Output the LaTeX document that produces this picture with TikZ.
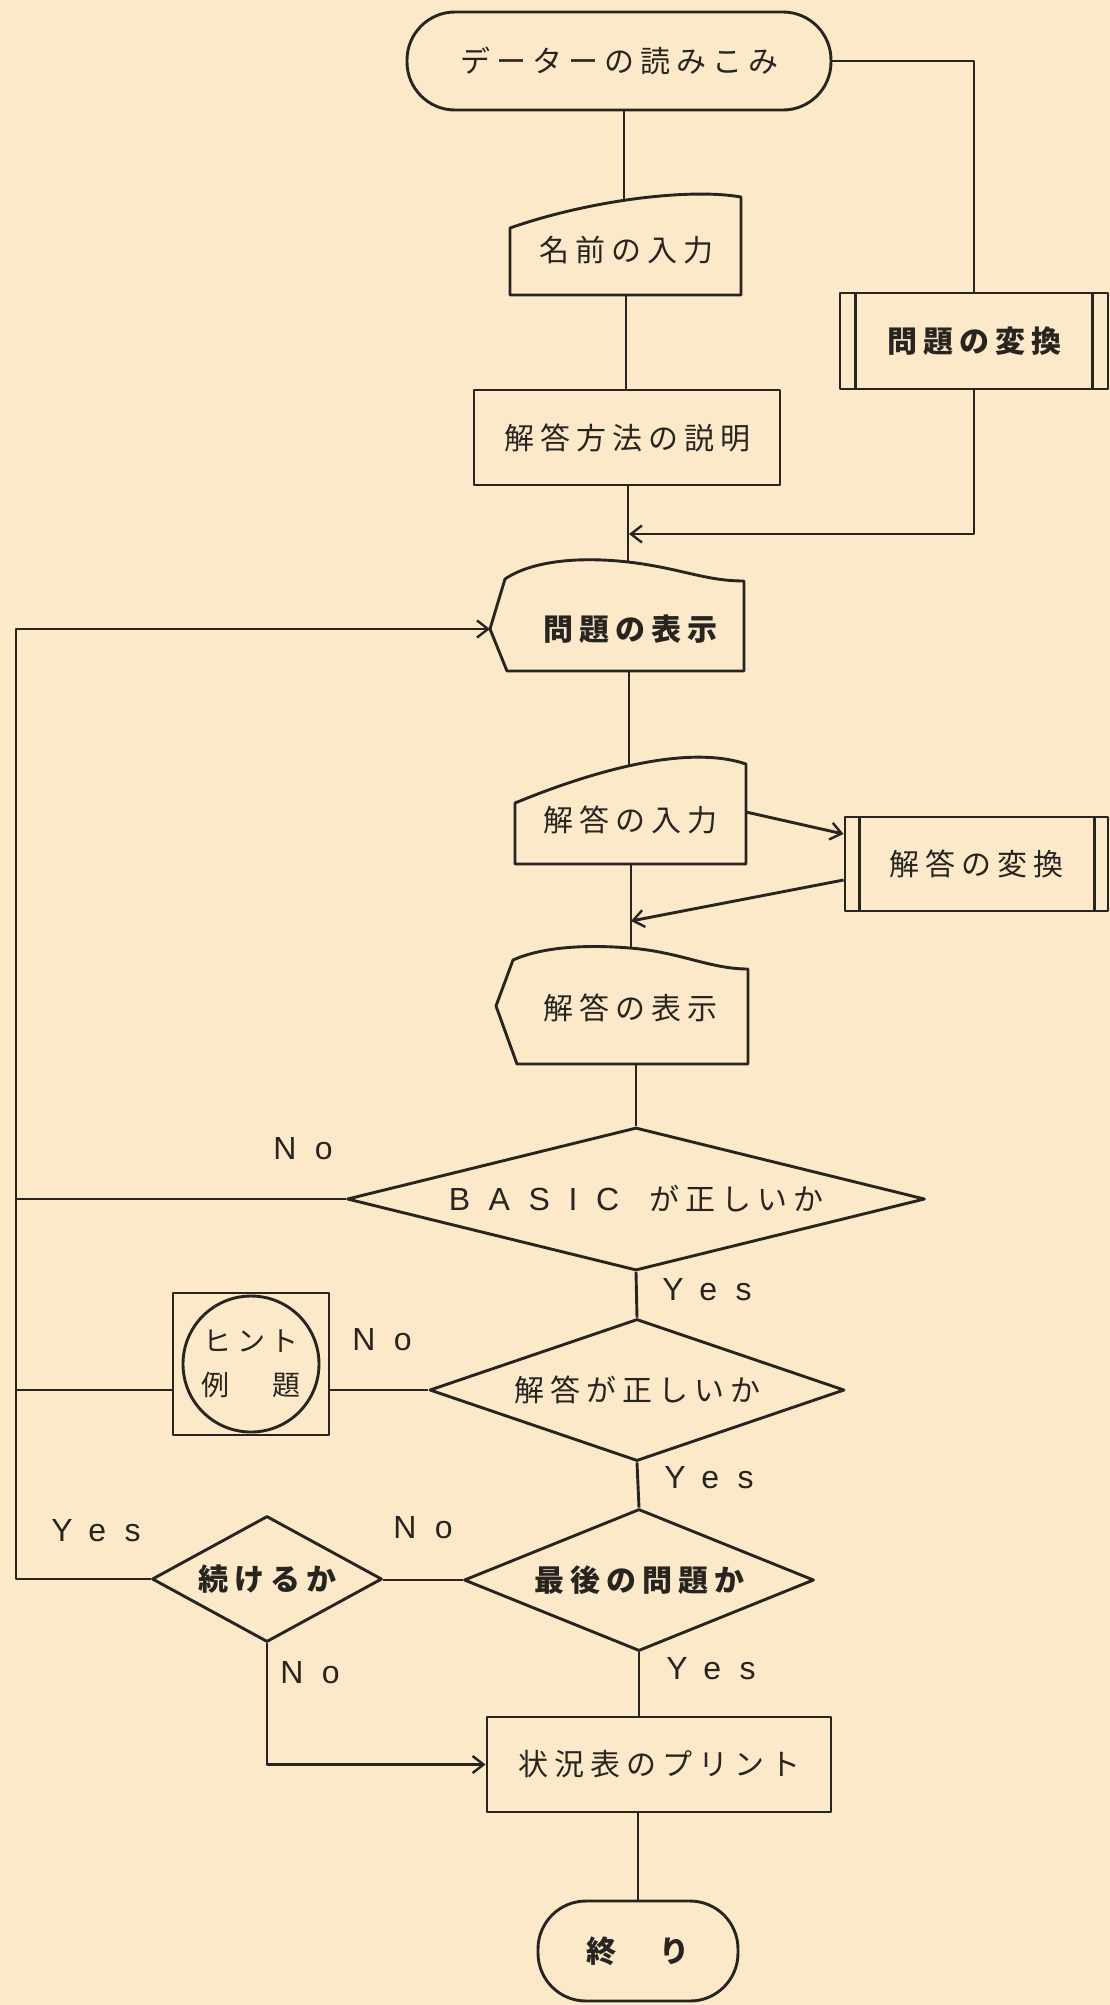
\documentclass[tikz,border=0pt]{standalone}
\usepackage{fontspec}
\newfontfamily\jp[LetterSpace=20]{Noto Sans CJK JP}
\newfontfamily\lat[LetterSpace=58]{Liberation Sans}
\usetikzlibrary{arrows.meta,calc,shapes.geometric}
\definecolor{paper}{RGB}{252,233,201}
\definecolor{ink}{RGB}{40,36,32}
\begin{document}
\begin{tikzpicture}[x=1pt,y=-1pt,line width=2.9pt,line join=round,color=ink,
  jt/.style={font=\jp\fontsize{30pt}{36pt}\selectfont, inner sep=0pt},
  box/.style={draw, rectangle, inner sep=0pt, jt},
  term/.style={draw, rectangle, rounded corners=48pt, inner sep=0pt, jt},
  dec/.style={draw, diamond, inner sep=0pt, jt},
  lbl/.style={font=\lat\fontsize{32pt}{32pt}\selectfont, inner sep=0pt},
  arr/.style={-{Straight Barb[length=11pt,width=17pt,line width=2.4pt]}}]

\fill[paper] (0,0) rectangle (1110,2005);
\useasboundingbox (0,0) rectangle (1110,2005);

% ---- nodes ----
\node[term, minimum width=424pt, minimum height=98pt] (start) at (619,61) {データーの読みこみ};

% manual input: name
\draw (510,295) -- (510,228) .. controls (590,200) and (690,188) .. (741,197) -- (741,295) -- cycle;
\node[jt] (name) at (626,250) {名前の入力};
\coordinate (nameT) at (624,199);
\coordinate (nameB) at (626,295);

\node[box, minimum width=268pt, minimum height=96pt] (qconv) at (974,341) {\bfseries 問題の変換};
\draw ($(qconv.north west)+(17,0)$) -- ($(qconv.south west)+(17,0)$);
\draw ($(qconv.north east)+(-17,0)$) -- ($(qconv.south east)+(-17,0)$);

\node[box, minimum width=306pt, minimum height=95pt] (explain) at (627,437.5) {解答方法の説明};

% display: qdisp
\draw (490,629) -- (505,579) .. controls (530,562) and (575,556) .. (628,562)
      .. controls (680,568) and (705,581) .. (744,581) -- (744,671) -- (507,671) -- cycle;
\node[jt] (qdisp) at (630,629) {\bfseries 問題の表示};
\coordinate (qdispT) at (628,562);
\coordinate (qdispB) at (629,671);
\coordinate (qdispL) at (490,629);

% manual input: ansin
\draw (515,864) -- (515,803) .. controls (600,768) and (690,745) .. (746,764) -- (746,864) -- cycle;
\node[jt] (ansin) at (630,820) {解答の入力};
\coordinate (ansinT) at (629,766);
\coordinate (ansinB) at (631,864);
\coordinate (ansinR) at (746,812);

\node[box, minimum width=263pt, minimum height=94pt] (aconv) at (976.5,864) {解答の変換};
\draw ($(aconv.north west)+(16,0)$) -- ($(aconv.south west)+(16,0)$);
\draw ($(aconv.north east)+(-15,0)$) -- ($(aconv.south east)+(-15,0)$);
\coordinate (aconvIn) at ($(aconv.west)+(0,-30)$);
\coordinate (aconvOut) at ($(aconv.west)+(0,16)$);
\coordinate (mergeB) at (631,921);

% display: adisp
\draw (496,1006) -- (513,960) .. controls (540,948) and (580,944) .. (630,948)
      .. controls (680,952) and (710,969) .. (748,969) -- (748,1064) -- (517,1064) -- cycle;
\node[jt] (adisp) at (630,1008) {解答の表示};
\coordinate (adispT) at (631,948);
\coordinate (adispB) at (634,1064);

\node[dec, aspect=4.04, minimum width=578pt, minimum height=143pt] (basic) at (636,1199)
  {{\lat\fontsize{32pt}{32pt}\selectfont BASIC}\hspace{30pt}が正しいか};
\node[dec, aspect=2.92, minimum width=415pt, minimum height=142pt] (ans) at (637,1390) {解答が正しいか};
\node[box, minimum width=156pt, minimum height=142pt, align=center,
      font=\jp\fontsize{28pt}{44pt}\selectfont] (hint) at (251,1364) {ヒント\\例\hspace{44pt}題};
\draw (hint.center) circle[radius=68pt];

\node[dec, aspect=2.46, minimum width=350pt, minimum height=142pt] (last) at (639,1580) {\bfseries 最後の問題か};
\node[dec, aspect=1.83, minimum width=230pt, minimum height=126pt] (cont) at (267,1579) {\bfseries 続けるか};
\node[box, minimum width=344pt, minimum height=95pt] (print) at (659,1764.5) {状況表のプリント};
\node[term, minimum width=200pt, minimum height=100pt] (end) at (638,1951) {\bfseries 終\hspace{43pt}り};

\coordinate (mergeA) at (629,534);
\coordinate (loopTop) at (16,629);
\coordinate (loopBot) at (16,1579);

% ---- connectors ----
\draw (nameT |- start.south) -- (nameT);
\draw (start.east) -- (start.east -| qconv.north) -- (qconv.north);
\draw (nameB) -- (nameB |- explain.north);
\draw (qdispT |- explain.south) -- (qdispT);
\draw[arr] (qconv.south) -- (qconv.south |- mergeA) -- (mergeA);
\draw (qdispB) -- (qdispB |- ansinT);
\draw[arr] (ansinR) -- (aconvIn);
\draw (ansinB) -- (ansinB |- adispT);
\draw[arr] (aconvOut) -- (mergeB);
\draw (basic.north |- adispB) -- (basic.north);
\draw (basic.west) -- (basic.west -| loopTop);
\draw (basic.south) -- (ans.north);
\draw (ans.west) -- (ans.west -| hint.east);
\draw (ans.west -| hint.west) -- (ans.west -| loopTop);
\draw (ans.south) -- (last.north);
\draw (last.west) -- (last.west -| cont.east);
\draw[arr] (cont.west) -- (loopBot) -- (loopTop) -- (qdispL);
\draw[arr] (cont.south) -- (cont.south |- print.west) -- (print.west);
\draw (last.south) -- (last.south |- print.north);
\draw (print.south -| end.north) -- (end.north);

% ---- labels ----
\node[lbl] (no1) at (303,1149) {No};
\node[lbl] (yes1) at (707,1290) {Yes};
\node[lbl] (no2) at (382,1340) {No};
\node[lbl] (yes2) at (709,1478) {Yes};
\node[lbl] (yes3) at (96,1531) {Yes};
\node[lbl] (no3) at (423,1528) {No};
\node[lbl] (no4) at (310,1673) {No};
\node[lbl] (yes4) at (711,1669) {Yes};
\end{tikzpicture}
\end{document}
